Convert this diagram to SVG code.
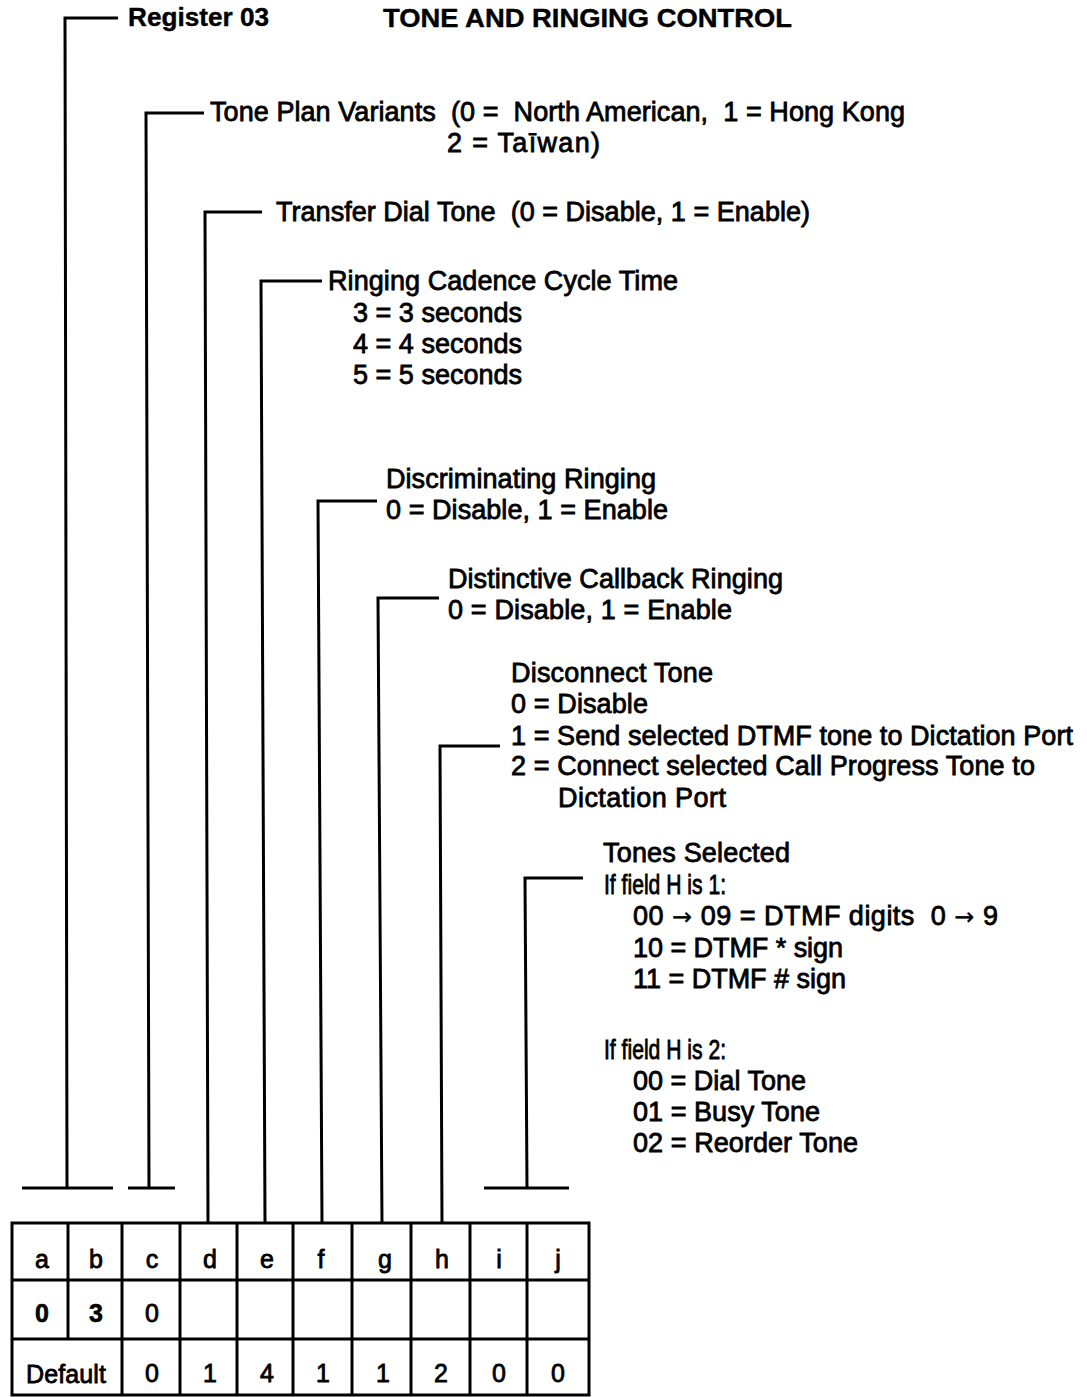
<svg xmlns="http://www.w3.org/2000/svg" width="1087" height="1397" viewBox="0 0 1087 1397" xml:space="preserve">
<style>
.t{font-family:"Liberation Sans",Arial,sans-serif;font-size:27px;fill:#000;stroke:#000;stroke-width:0.8px;white-space:pre}
.ar{font-family:"DejaVu Sans",sans-serif;font-size:24px;stroke-width:0.3px}
.b{font-family:"Liberation Sans",Arial,sans-serif;font-size:26px;font-weight:bold;fill:#000;stroke:#000;stroke-width:0.4px}
.c{font-family:"Liberation Sans",Arial,sans-serif;font-size:25px;fill:#000;stroke:#000;stroke-width:0.8px;text-anchor:middle}
.cb{font-family:"Liberation Sans",Arial,sans-serif;font-size:25px;font-weight:bold;fill:#000;stroke:#000;stroke-width:0.6px;text-anchor:middle}
.ln{fill:none;stroke:#000;stroke-width:3}
</style>
<rect width="1087" height="1397" fill="#fff"/>
<g id="connectors" class="ln">
<polyline points="118,18 65,18 67,1188"/><line x1="22" y1="1188" x2="113" y2="1188"/>
<polyline points="204,113 146,113 149,1188"/><line x1="128" y1="1188" x2="175" y2="1188"/>
<polyline points="262,212 205,212 208,1223"/>
<polyline points="322,281 261,281 265,1223"/>
<polyline points="377,501 318,501 322,1223"/>
<polyline points="439,598 378,598 382,1223"/>
<polyline points="500,746 440,746 442,1223"/>
<polyline points="583,878 525,878 527,1188"/><line x1="484" y1="1188" x2="569" y2="1188"/>
</g>
<g id="title">
<text class="b" x="128" y="26" textLength="141" lengthAdjust="spacingAndGlyphs">Register 03</text>
<text class="b" x="383" y="27" textLength="409" lengthAdjust="spacingAndGlyphs">TONE AND RINGING CONTROL</text>
</g>
<g id="tone-plan">
<text class="t" x="210" y="121" textLength="695" lengthAdjust="spacing">Tone Plan Variants  (0 =  North American,  1 = Hong Kong</text>
<text class="t" x="447" y="152" textLength="153" lengthAdjust="spacing">2 = Taīwan)</text>
</g>
<g id="transfer-dial-tone">
<text class="t" x="276" y="221" textLength="534" lengthAdjust="spacing">Transfer Dial Tone  (0 = Disable, 1 = Enable)</text>
</g>
<g id="ringing-cadence">
<text class="t" x="328" y="290" textLength="350" lengthAdjust="spacing">Ringing Cadence Cycle Time</text>
<text class="t" x="353" y="322" textLength="169" lengthAdjust="spacing">3 = 3 seconds</text>
<text class="t" x="353" y="353" textLength="169" lengthAdjust="spacing">4 = 4 seconds</text>
<text class="t" x="353" y="384" textLength="169" lengthAdjust="spacing">5 = 5 seconds</text>
</g>
<g id="discriminating-ringing">
<text class="t" x="386" y="488" textLength="270" lengthAdjust="spacing">Discriminating Ringing</text>
<text class="t" x="386" y="519" textLength="282" lengthAdjust="spacing">0 = Disable, 1 = Enable</text>
</g>
<g id="distinctive-callback">
<text class="t" x="448" y="588" textLength="335" lengthAdjust="spacing">Distinctive Callback Ringing</text>
<text class="t" x="448" y="619" textLength="284" lengthAdjust="spacing">0 = Disable, 1 = Enable</text>
</g>
<g id="disconnect-tone">
<text class="t" x="511" y="682" textLength="202" lengthAdjust="spacing">Disconnect Tone</text>
<text class="t" x="511" y="713" textLength="137" lengthAdjust="spacing">0 = Disable</text>
<text class="t" x="511" y="745" textLength="562" lengthAdjust="spacing">1 = Send selected DTMF tone to Dictation Port</text>
<text class="t" x="511" y="775" textLength="524" lengthAdjust="spacing">2 = Connect selected Call Progress Tone to</text>
<text class="t" x="558" y="807" textLength="168" lengthAdjust="spacing">Dictation Port</text>
</g>
<g id="tones-selected">
<text class="t" x="603" y="862" textLength="187" lengthAdjust="spacing">Tones Selected</text>
<text class="t" x="604" y="894" textLength="122" lengthAdjust="spacingAndGlyphs">If field H is 1:</text>
<text class="t" x="633" y="925" textLength="365" lengthAdjust="spacing">00 <tspan class="ar">→</tspan> 09 = DTMF digits  0 <tspan class="ar">→</tspan> 9</text>
<text class="t" x="633" y="957" textLength="210" lengthAdjust="spacing">10 = DTMF * sign</text>
<text class="t" x="633" y="988" textLength="213" lengthAdjust="spacing">11 = DTMF # sign</text>
<text class="t" x="604" y="1059" textLength="122" lengthAdjust="spacingAndGlyphs">If field H is 2:</text>
<text class="t" x="633" y="1090" textLength="173" lengthAdjust="spacing">00 = Dial Tone</text>
<text class="t" x="633" y="1121" textLength="187" lengthAdjust="spacing">01 = Busy Tone</text>
<text class="t" x="633" y="1152" textLength="225" lengthAdjust="spacing">02 = Reorder Tone</text>
</g>
<g id="register-table">
<g class="ln">
<rect x="12" y="1223" width="577" height="172"/>
<line x1="12" y1="1280" x2="589" y2="1280"/>
<line x1="12" y1="1339" x2="589" y2="1339"/>
<line x1="68" y1="1223" x2="68" y2="1339"/>
<line x1="122" y1="1223" x2="122" y2="1395"/>
<line x1="180" y1="1223" x2="180" y2="1395"/>
<line x1="237" y1="1223" x2="237" y2="1395"/>
<line x1="293" y1="1223" x2="293" y2="1395"/>
<line x1="352" y1="1223" x2="352" y2="1395"/>
<line x1="411" y1="1223" x2="411" y2="1395"/>
<line x1="470" y1="1223" x2="470" y2="1395"/>
<line x1="527" y1="1223" x2="527" y2="1395"/>
</g>
<text class="c" x="42" y="1268">a</text>
<text class="c" x="96" y="1268">b</text>
<text class="c" x="152" y="1268">c</text>
<text class="c" x="210" y="1268">d</text>
<text class="c" x="267" y="1268">e</text>
<text class="c" x="321" y="1268">f</text>
<text class="c" x="385" y="1268">g</text>
<text class="c" x="442" y="1268">h</text>
<text class="c" x="499" y="1268">i</text>
<text class="c" x="558" y="1268">j</text>
<text class="cb" x="42" y="1322">0</text>
<text class="cb" x="96" y="1322">3</text>
<text class="c" x="152" y="1322">0</text>
<text class="c" x="66" y="1383" textLength="80" lengthAdjust="spacing">Default</text>
<text class="c" x="152" y="1382">0</text>
<text class="c" x="210" y="1382">1</text>
<text class="c" x="267" y="1382">4</text>
<text class="c" x="323" y="1382">1</text>
<text class="c" x="383" y="1382">1</text>
<text class="c" x="441" y="1382">2</text>
<text class="c" x="499" y="1382">0</text>
<text class="c" x="558" y="1382">0</text>
</g>
</svg>
